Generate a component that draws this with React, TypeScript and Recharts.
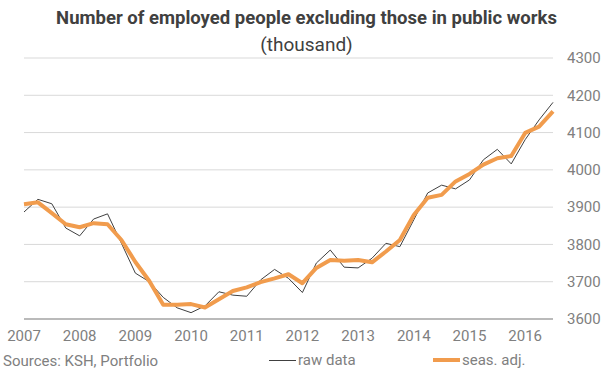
import { LineChart, Line, XAxis, YAxis, CartesianGrid } from 'recharts'

// quarterly, 2007 Q1 .. 2016 Q3
const years = ['2007', '2008', '2009', '2010', '2011', '2012', '2013', '2014', '2015', '2016']
const quarters = years.flatMap(y => ['Q1', 'Q2', 'Q3', 'Q4'].map(q => `${y} ${q}`)).slice(0, 39)

const rawData = [
  3887, 3921, 3909, 3844, 3823, 3868, 3882, 3803, 3723, 3700,
  3658, 3630, 3617, 3635, 3673, 3664, 3661, 3705, 3733, 3709,
  3671, 3750, 3785, 3739, 3737, 3763, 3803, 3794, 3866, 3938,
  3959, 3949, 3973, 4027, 4055, 4016, 4081, 4134, 4181,
]

const seasAdj = [
  3908, 3913, 3884, 3854, 3846, 3857, 3854, 3812, 3753, 3702,
  3638, 3638, 3640, 3631, 3653, 3675, 3685, 3699, 3709, 3720,
  3696, 3737, 3758, 3756, 3758, 3752, 3781, 3812, 3879, 3925,
  3933, 3969, 3989, 4014, 4031, 4037, 4099, 4116, 4157,
]

const yTicks = [3600, 3700, 3800, 3900, 4000, 4100, 4200, 4300]

const chartData = quarters.map((q, i) => ({ q, raw: rawData[i], adj: seasAdj[i] }))

const font = 'Roboto, "Noto Sans", sans-serif'
const tickStyle = { fontSize: 15, fill: '#808080', fontFamily: font }

export default function App() {
  return (
    <div style={{ position: 'absolute', left: 0, top: 0, width: 613, height: 385, background: '#fff', fontFamily: font }}>
      <div style={{ position: 'absolute', top: 6, left: 0, width: 613, textAlign: 'center', color: '#404040', fontSize: 18.5, fontWeight: 700, lineHeight: '24px' }}>
        Number of employed people excluding those in public works
      </div>
      <div style={{ position: 'absolute', top: 33, left: 0, width: 613, textAlign: 'center', color: '#404040', fontSize: 19, lineHeight: '24px' }}>
        (thousand)
      </div>
      <LineChart width={613} height={385} data={chartData} margin={{ top: 58, right: 0, bottom: 36, left: 24 }}>
        <CartesianGrid vertical={false} stroke="#d9d9d9" />
        <XAxis
          dataKey="q"
          interval={3}
          tickFormatter={(v: string) => v.slice(0, 4)}
          tick={tickStyle}
          tickLine={false}
          tickMargin={5}
          axisLine={{ stroke: '#888' }}
          height={30}
        />
        <YAxis
          orientation="right"
          domain={[3600, 4300]}
          ticks={yTicks}
          tick={tickStyle}
          axisLine={false}
          tickLine={false}
          tickMargin={8}
          width={60}
        />
        <Line dataKey="raw" stroke="#404040" strokeWidth={1} dot={false} isAnimationActive={false} />
        <Line dataKey="adj" stroke="#F19C4D" strokeWidth={4} dot={false} strokeLinejoin="round" isAnimationActive={false} />
      </LineChart>
      <div style={{ position: 'absolute', left: 3, top: 352, fontSize: 15, color: '#808080' }}>Sources: KSH, Portfolio</div>
      <div style={{ position: 'absolute', left: 269, top: 351, display: 'flex', alignItems: 'center', fontSize: 15, color: '#808080' }}>
        <span style={{ display: 'inline-block', width: 27, height: 1, background: '#404040', marginRight: 2 }} />
        raw data
      </div>
      <div style={{ position: 'absolute', left: 433, top: 351, display: 'flex', alignItems: 'center', fontSize: 15, color: '#808080' }}>
        <span style={{ display: 'inline-block', width: 27, height: 4, background: '#F19C4D', marginRight: 2 }} />
        seas. adj.
      </div>
    </div>
  )
}
